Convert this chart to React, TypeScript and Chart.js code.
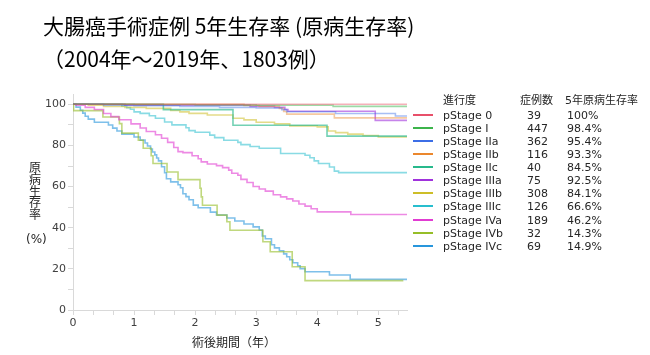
import { useEffect, useRef } from "react";
import { Chart, registerables } from "chart.js";

Chart.register(...registerables);

// ---- data ----
const stageNames = ["pStage 0", "pStage I", "pStage IIa", "pStage IIb", "pStage IIc", "pStage IIIa", "pStage IIIb", "pStage IIIc", "pStage IVa", "pStage IVb", "pStage IVc"];
const caseCounts = ["39", "447", "362", "116", "40", "75", "308", "126", "189", "32", "69"];
const fiveYearRates = ["100%", "98.4%", "95.4%", "93.3%", "84.5%", "92.5%", "84.1%", "66.6%", "46.2%", "14.3%", "14.9%"];
const lineColors = [
  "rgba(232,80,100,0.45)", "rgba(60,180,75,0.5)", "rgba(60,110,230,0.45)", "rgba(235,135,45,0.45)",
  "rgba(40,185,140,0.65)", "rgba(160,50,220,0.6)", "rgba(205,190,40,0.55)", "rgba(40,190,205,0.55)",
  "rgba(225,60,210,0.6)", "rgba(150,190,40,0.6)", "rgba(40,150,220,0.6)",
];
const legendColors = ["#e8506a", "#3cb44b", "#3c6ee6", "#eb872d", "#28b98c", "#a032dc", "#cdbe28", "#28bece", "#e13cd2", "#96be28", "#2896dc"];

const t0 = [0, 5.47];
const s0 = [100, 100];
const tI = [0, 1.0, 2.0, 3.0, 4.26, 5.47];
const sI = [100, 99.9, 99.7, 99.5, 99.0, 99.0];
const tIIa = [0, 0.5, 1.0, 1.75, 2.4, 3.0, 3.42, 3.5, 4.3, 5.28, 5.47];
const sIIa = [100, 99.6, 99.3, 98.9, 98.5, 98.2, 97.4, 96.4, 95.5, 94.3, 94.3];
const tIIb = [0, 2.8, 3.05, 3.38, 3.45, 3.5, 4.28, 5.47];
const sIIb = [100, 99.4, 99.0, 98.0, 96.5, 95.2, 93.4, 93.4];
const tIIc = [0, 1.48, 2.62, 4.16, 5.47];
const sIIc = [100, 97.4, 89.8, 84.5, 84.5];
const tIIIa = [0, 0.85, 2.9, 3.3, 3.47, 3.52, 4.95, 5.47];
const sIIIa = [100, 99.5, 99.0, 98.5, 97.5, 96.6, 92.2, 92.2];
const tIIIb = [0, 0.25, 0.5, 0.85, 1.2, 1.6, 1.75, 1.9, 2.2, 2.62, 2.8, 3.0, 3.3, 3.55, 4.0, 4.18, 4.3, 4.5, 4.75, 5.0, 5.47];
const sIIIb = [100, 99.6, 99.0, 98.5, 98.0, 97.0, 96.3, 95.6, 94.8, 93.2, 92.4, 91.3, 90.5, 89.5, 89.0, 87.0, 86.2, 85.5, 84.8, 84.1, 84.1];
const tIIIc = [0, 0.8, 0.88, 0.94, 1.0, 1.1, 1.25, 1.35, 1.5, 1.62, 1.85, 1.9, 2.0, 2.24, 2.32, 2.47, 2.7, 2.75, 2.9, 3.05, 3.4, 3.8, 3.88, 3.95, 4.02, 4.2, 4.28, 4.35, 5.47];
const sIIIc = [100, 99.2, 98.4, 97.6, 96.3, 95.6, 94.4, 93.2, 91.4, 90.0, 88.6, 87.2, 86.4, 85.0, 83.8, 82.5, 81.5, 80.4, 79.5, 78.6, 76.1, 75.2, 74.0, 72.5, 71.2, 69.5, 67.5, 66.8, 66.8];
const tIVa = [0, 0.05, 0.2, 0.35, 0.5, 0.62, 0.75, 0.95, 1.1, 1.2, 1.35, 1.45, 1.55, 1.65, 1.72, 1.8, 1.95, 2.05, 2.1, 2.2, 2.35, 2.45, 2.55, 2.6, 2.7, 2.75, 2.85, 2.95, 3.05, 3.15, 3.28, 3.4, 3.5, 3.6, 3.7, 3.8, 3.9, 4.0, 4.55, 5.47];
const sIVa = [100, 99.5, 98.5, 97.5, 95.5, 94.0, 92.5, 90.5, 88.5, 86.8, 85.2, 83.5, 81.5, 79.0, 77.0, 76.5, 75.0, 73.5, 72.0, 71.0, 70.2, 69.2, 68.0, 66.5, 65.5, 63.5, 62.0, 60.0, 58.8, 57.8, 56.0, 55.0, 54.0, 53.0, 51.5, 50.5, 49.2, 47.7, 46.4, 46.4];
const tIVb = [0, 0.01, 0.49, 0.76, 0.8, 1.07, 1.15, 1.28, 1.31, 1.54, 1.72, 2.08, 2.1, 2.12, 2.36, 2.52, 2.57, 3.11, 3.23, 3.59, 3.8, 5.41];
const sIVb = [100, 96.9, 93.8, 90.6, 86.0, 82.5, 78.6, 75.0, 71.2, 67.1, 63.4, 59.2, 55.0, 50.9, 46.1, 42.9, 38.8, 33.2, 28.3, 21.0, 14.3, 14.3];
const tIVc = [0, 0.05, 0.12, 0.16, 0.2, 0.25, 0.35, 0.58, 0.65, 0.72, 0.8, 1.0, 1.1, 1.18, 1.22, 1.27, 1.3, 1.34, 1.37, 1.4, 1.45, 1.5, 1.53, 1.6, 1.72, 1.76, 1.8, 1.85, 1.9, 1.97, 2.05, 2.25, 2.35, 2.52, 2.65, 2.8, 2.95, 3.05, 3.1, 3.15, 3.25, 3.3, 3.38, 3.45, 3.5, 3.55, 3.6, 3.68, 3.72, 3.8, 4.2, 4.54, 5.47];
const sIVc = [100, 98.6, 97.1, 95.7, 94.2, 92.8, 91.3, 89.9, 88.4, 87.0, 85.5, 84.1, 82.6, 81.2, 79.7, 78.3, 76.8, 75.4, 73.9, 72.5, 69.6, 66.7, 63.8, 62.3, 60.9, 59.4, 56.5, 55.1, 53.6, 51.0, 49.7, 47.6, 46.2, 44.7, 43.3, 41.8, 40.4, 38.9, 36.0, 34.6, 31.7, 30.2, 28.8, 27.3, 25.9, 24.4, 23.0, 21.5, 20.1, 18.6, 17.0, 14.9, 14.9];

const seriesTimes = [t0, tI, tIIa, tIIb, tIIc, tIIIa, tIIIb, tIIIc, tIVa, tIVb, tIVc];
const seriesSurv = [s0, sI, sIIa, sIIb, sIIc, sIIIa, sIIIb, sIIIc, sIVa, sIVb, sIVc];

const yTickValues = [0, 10, 20, 30, 40, 50, 60, 70, 80, 90, 100];
const xTickValues = [0, 1 / 3, 2 / 3, 1, 4 / 3, 5 / 3, 2, 7 / 3, 8 / 3, 3, 10 / 3, 11 / 3, 4, 13 / 3, 14 / 3, 5, 16 / 3];

const titleLine1 = "大腸癌手術症例 5年生存率 (原病生存率)";
const titleLine2 = "（2004年～2019年、1803例）";
const yTitleChars = ["原", "病", "生", "存", "率"];
const yTitleUnit = "(%)";
const xTitle = "術後期間（年）";
const legendHeaders = ["進行度", "症例数", "5年原病生存率"];

const AXIS_COLOR = "#d9d9d9";
const TEXT_FONT = "'DejaVu Sans', 'Noto Sans CJK JP', sans-serif";

export default function App() {
  const canvasRef = useRef<HTMLCanvasElement | null>(null);

  useEffect(() => {
    const canvas = canvasRef.current;
    if (!canvas) return;
    const datasets = seriesTimes.map((times, i) => ({
      label: stageNames[i],
      data: times.map((t, j) => ({ x: t, y: seriesSurv[i][j] })),
      borderColor: lineColors[i],
      backgroundColor: lineColors[i],
      borderWidth: 1.6,
      pointRadius: 0,
      stepped: true as const,
      fill: false,
    }));
    const chart = new Chart(canvas, {
      type: "line",
      data: { datasets },
      options: {
        responsive: false,
        animation: false,
        layout: { padding: { left: 0, right: 243, top: 94, bottom: 0 } },
        plugins: { legend: { display: false }, tooltip: { enabled: false }, title: { display: false } },
        scales: {
          x: {
            type: "linear",
            min: 0,
            max: 5.47,
            afterFit: (s: any) => { s.height = 45; },
            afterBuildTicks: (s: any) => { s.ticks = xTickValues.map((v) => ({ value: v })); },
            ticks: {
              autoSkip: false,
              maxRotation: 0,
              padding: 2,
              color: "#404040",
              font: { family: "'DejaVu Sans', sans-serif", size: 11 },
              callback: (v: any) => {
                const n = Number(v);
                return Math.abs(n - Math.round(n)) < 1e-6 ? String(Math.round(n)) : "";
              },
            },
            grid: { drawOnChartArea: false, drawTicks: true, tickLength: 5, color: AXIS_COLOR },
            border: { color: AXIS_COLOR, width: 1 },
          },
          y: {
            type: "linear",
            min: 0,
            max: 105,
            afterFit: (s: any) => { s.width = 73; },
            afterBuildTicks: (s: any) => { s.ticks = yTickValues.map((v) => ({ value: v })); },
            ticks: {
              autoSkip: false,
              padding: 2,
              color: "#404040",
              font: { family: "'DejaVu Sans', sans-serif", size: 11 },
              callback: (v: any) => (Number(v) % 20 === 0 ? String(v) : ""),
            },
            grid: { drawOnChartArea: false, drawTicks: true, tickLength: 5, color: AXIS_COLOR },
            border: { color: AXIS_COLOR, width: 1 },
          },
        },
      },
    });
    return () => chart.destroy();
  }, []);

  const abs = (left: number, top: number, extra: any = {}) => ({
    position: "absolute" as const,
    left,
    top,
    whiteSpace: "nowrap" as const,
    ...extra,
  });

  return (
    <div style={{ position: "absolute", left: 0, top: 0, width: 650, height: 355, background: "#fff", overflow: "hidden" }}>
      <canvas ref={canvasRef} width={650} height={355} style={{ position: "absolute", left: 0, top: 0 }} />
      <div style={abs(43, 10, { fontFamily: "'Noto Sans CJK JP', sans-serif", fontSize: 21, lineHeight: "30px", color: "#000" })}>{titleLine1}</div>
      <div style={abs(43, 43, { fontFamily: "'Noto Sans CJK JP', sans-serif", fontSize: 21, lineHeight: "30px", color: "#000" })}>{titleLine2}</div>
      {yTitleChars.map((c, i) => (
        <div key={c + i} style={abs(29, 160 + i * 11.8, { fontFamily: "'Noto Sans CJK JP', sans-serif", fontSize: 12, lineHeight: "13px", color: "#262626" })}>{c}</div>
      ))}
      <div style={abs(26, 231, { fontFamily: TEXT_FONT, fontSize: 12, lineHeight: "16px", color: "#262626" })}>{yTitleUnit}</div>
      <div style={abs(192, 334, { fontFamily: "'Noto Sans CJK JP', sans-serif", fontSize: 12, lineHeight: "16px", color: "#262626" })}>{xTitle}</div>
      <div style={abs(443, 94, { fontFamily: TEXT_FONT, fontSize: 11, lineHeight: "14px", color: "#262626" })}>{legendHeaders[0]}</div>
      <div style={abs(520, 94, { fontFamily: TEXT_FONT, fontSize: 11, lineHeight: "14px", color: "#262626" })}>{legendHeaders[1]}</div>
      <div style={abs(565, 94, { fontFamily: TEXT_FONT, fontSize: 11, lineHeight: "14px", color: "#262626" })}>{legendHeaders[2]}</div>
      {stageNames.map((name, i) => {
        const cy = 115.7 + i * 13.1;
        return (
          <div key={name}>
            <div style={{ position: "absolute", left: 413, top: cy - 2, width: 20, height: 2, background: legendColors[i] }} />
            <div style={abs(443, cy - 7, { fontFamily: TEXT_FONT, fontSize: 11, lineHeight: "14px", color: "#262626" })}>{name}</div>
            <div style={abs(527, cy - 7, { fontFamily: TEXT_FONT, fontSize: 11, lineHeight: "14px", color: "#262626" })}>{caseCounts[i]}</div>
            <div style={abs(567, cy - 7, { fontFamily: TEXT_FONT, fontSize: 11, lineHeight: "14px", color: "#262626" })}>{fiveYearRates[i]}</div>
          </div>
        );
      })}
    </div>
  );
}
